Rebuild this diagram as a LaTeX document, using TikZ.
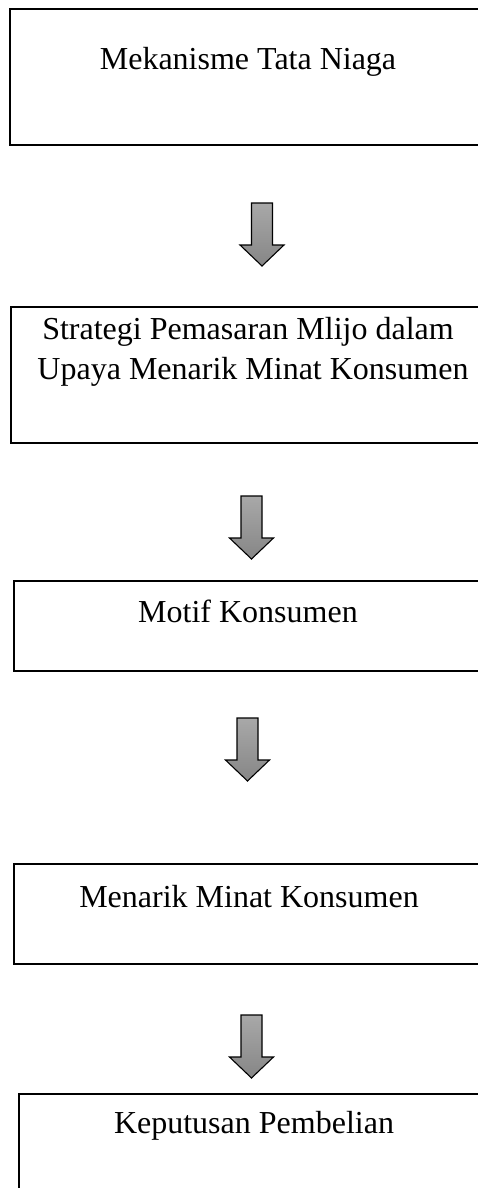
\documentclass[tikz,border=0pt]{standalone}
\usepackage{fontspec}
\setmainfont{Liberation Serif}

\tikzset{
  box/.style={draw=black, line width=2pt, rectangle, anchor=north west,
    outer sep=0pt, inner sep=0pt, minimum width=490pt},
  boxtext/.style={anchor=base, inner sep=0pt,
    font=\fontsize{32}{38}\selectfont},
  downarrow/.pic={
    \path[draw=black, line width=1.1pt, line join=miter,
          top color=gray!68, bottom color=gray!95]
      (-10.5,0) -- (10.5,0) -- (10.5,42) -- (22,42) -- (0,63)
      -- (-22,42) -- (-10.5,42) -- cycle;
  }
}

\begin{document}
\begin{tikzpicture}[x=1pt, y=-1pt]
  \useasboundingbox (0,0) rectangle (478,1188);
  \clip (0,0) rectangle (478,1188);

  % boxes (open to the right edge of the page)
  \node[box, minimum height=136pt] (b1) at (10,9) {};
  \node[box, minimum height=136pt] (b2) at (11,307) {};
  \node[box, minimum height=90pt]  (b3) at (14,581) {};
  \node[box, minimum height=100pt] (b4) at (14,864) {};
  \node[box, minimum height=120pt] (b5) at (19,1094) {};

  % texts
  \node[boxtext] (t1)  at (248,70)   {Mekanisme Tata Niaga};
  \node[boxtext] (t2a) at (248,339)  {Strategi Pemasaran Mlijo dalam};
  \node[boxtext] (t2b) at (253,379)  {Upaya Menarik Minat Konsumen};
  \node[boxtext] (t3)  at (248,622)  {Motif Konsumen};
  \node[boxtext] (t4)  at (249,907)  {Menarik Minat Konsumen};
  \node[boxtext] (t5)  at (254,1133) {Keputusan Pembelian};

  % block arrows between the boxes
  \coordinate (a1) at (262,203);
  \coordinate (a2) at (251.5,496);
  \coordinate (a3) at (247.5,718);
  \coordinate (a4) at (251.5,1015);
  \pic at (a1) {downarrow};
  \pic at (a2) {downarrow};
  \pic at (a3) {downarrow};
  \pic at (a4) {downarrow};
\end{tikzpicture}
\end{document}
